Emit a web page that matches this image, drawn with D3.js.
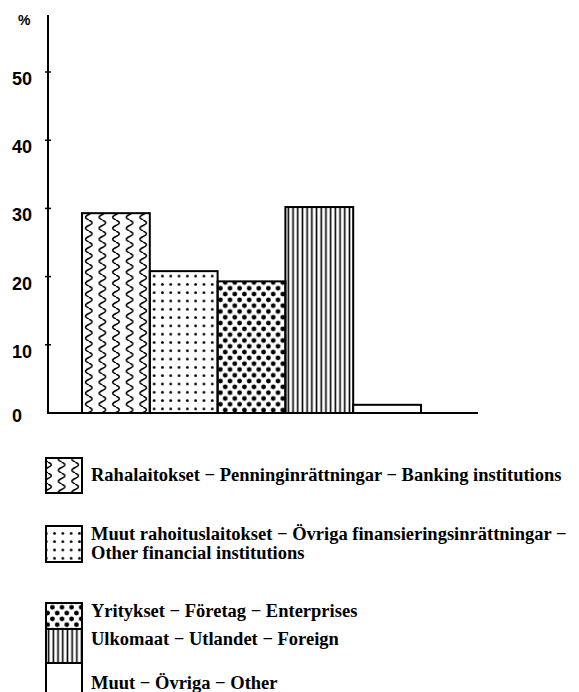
<!DOCTYPE html>
<html>
<head>
<meta charset="utf-8">
<script src="https://cdn.jsdelivr.net/npm/d3@7"></script>
<style>
	body { margin: 0; background: white; }
	svg { display: block; }
</style>
</head>
<body>
<svg id="chart" width="579" height="692"></svg>
<script>
// Sector shares, per cent
const categories = ["Rahalaitokset", "Muut rahoituslaitokset", "Yritykset", "Ulkomaat", "Muut"]
const values = [29.3, 20.8, 19.3, 30.2, 1.2]
const yTicks = [0, 10, 20, 30, 40, 50]
const legendLines = [
	["Rahalaitokset − Penninginrättningar − Banking institutions"],
	["Muut rahoituslaitokset − Övriga finansieringsinrättningar −", "Other financial institutions"],
	["Yritykset − Företag − Enterprises"],
	["Ulkomaat − Utlandet − Foreign"],
	["Muut − Övriga − Other"]
]

const fills = ["url(#waves)", "url(#fineDots)", "url(#bigDots)", "url(#stripes)", "white"]

const svg = d3.select("#chart")

let x = d3.scaleBand()
	.domain(categories)
	.range([82, 421])
	.padding(0)

let y = d3.scaleLinear()
	.domain([0, 50])
	.range([413, 72])

// Hatching patterns, drawn like the old print
let defs = svg.append("defs")

let waves = defs.append("pattern")
	.attr("id", "waves")
	.attr("patternUnits", "userSpaceOnUse")
	.attr("x", 82).attr("y", 0)
	.attr("width", 13.6).attr("height", 11)
waves.append("path")
	.attr("d", "M6.8,0 C11.2,2 11.2,3.5 6.8,5.5 C2.4,7.5 2.4,9 6.8,11")
	.attr("fill", "none")
	.attr("stroke", "black")
	.attr("stroke-width", 1.5)

let fine = defs.append("pattern")
	.attr("id", "fineDots")
	.attr("patternUnits", "userSpaceOnUse")
	.attr("x", 150).attr("y", 413)
	.attr("width", 8.3).attr("height", 8.3)
fine.append("circle")
	.attr("cx", 4.15).attr("cy", 4.15).attr("r", 1.4)
	.attr("fill", "black")

let big = defs.append("pattern")
	.attr("id", "bigDots")
	.attr("patternUnits", "userSpaceOnUse")
	.attr("x", 218).attr("y", 413)
	.attr("width", 9.6).attr("height", 11.6)
big.selectAll("circle")
	.data([[2.4, 2.9], [7.2, 8.7]])
	.join("circle")
	.attr("cx", d => d[0]).attr("cy", d => d[1]).attr("r", 2.4)
	.attr("fill", "black")

let stripes = defs.append("pattern")
	.attr("id", "stripes")
	.attr("patternUnits", "userSpaceOnUse")
	.attr("x", 286).attr("y", 0)
	.attr("width", 4.7).attr("height", 10)
stripes.append("line")
	.attr("x1", 2.35).attr("x2", 2.35)
	.attr("y1", 0).attr("y2", 10)
	.attr("stroke", "black")
	.attr("stroke-width", 1.6)

// Bars
svg.append("g")
	.selectAll("rect")
	.data(values)
	.join("rect")
	.attr("x", (d, i) => x(categories[i]))
	.attr("y", d => y(d))
	.attr("width", x.bandwidth())
	.attr("height", d => y(0) - y(d))
	.attr("fill", (d, i) => fills[i])
	.attr("stroke", "black")
	.attr("stroke-width", 2)

// Axis lines
svg.append("line")
	.attr("x1", 48).attr("x2", 48)
	.attr("y1", 15).attr("y2", y(0) + 1)
	.attr("stroke", "black")
	.attr("stroke-width", 2)
svg.append("line")
	.attr("x1", 47).attr("x2", 478)
	.attr("y1", y(0)).attr("y2", y(0))
	.attr("stroke", "black")
	.attr("stroke-width", 2)

let ticks = svg.append("g")
ticks.selectAll("line")
	.data(yTicks.filter(d => d > 0))
	.join("line")
	.attr("x1", 45).attr("x2", 51)
	.attr("y1", d => y(d)).attr("y2", d => y(d))
	.attr("stroke", "black")
	.attr("stroke-width", 1.5)
ticks.selectAll("text")
	.data(yTicks)
	.join("text")
	.attr("x", 12)
	.attr("y", d => y(d) + (d === 0 ? 9 : 13))
	.text(d => d)
	.style("font-family", "'Liberation Sans', Arial, sans-serif")
	.style("font-weight", "bold")
	.style("font-size", "18px")

svg.append("text")
	.attr("x", 18).attr("y", 25)
	.text("%")
	.style("font-family", "'Liberation Sans', Arial, sans-serif")
	.style("font-weight", "bold")
	.style("font-size", "14px")

// Legend: swatch boxes and their labels
const boxTop = [458, 526, 603, 629, 663]
const boxHeight = [35, 36, 26, 34, 40]
const textY = [481, 540, 617, 645, 689]

let legend = svg.append("g")
legend.selectAll("rect")
	.data(categories)
	.join("rect")
	.attr("x", 46)
	.attr("y", (d, i) => boxTop[i])
	.attr("width", 36)
	.attr("height", (d, i) => boxHeight[i])
	.attr("fill", (d, i) => fills[i])
	.attr("stroke", "black")
	.attr("stroke-width", 2)

legend.selectAll("text")
	.data(legendLines)
	.join("text")
	.attr("y", (d, i) => textY[i])
	.style("font-family", "'Liberation Serif', 'Times New Roman', serif")
	.style("font-weight", "bold")
	.style("font-size", "18.5px")
	.selectAll("tspan")
	.data(d => d)
	.join("tspan")
	.attr("x", 91)
	.attr("dy", (d, i) => i ? 19 : 0)
	.text(d => d)
</script>
</body>
</html>
